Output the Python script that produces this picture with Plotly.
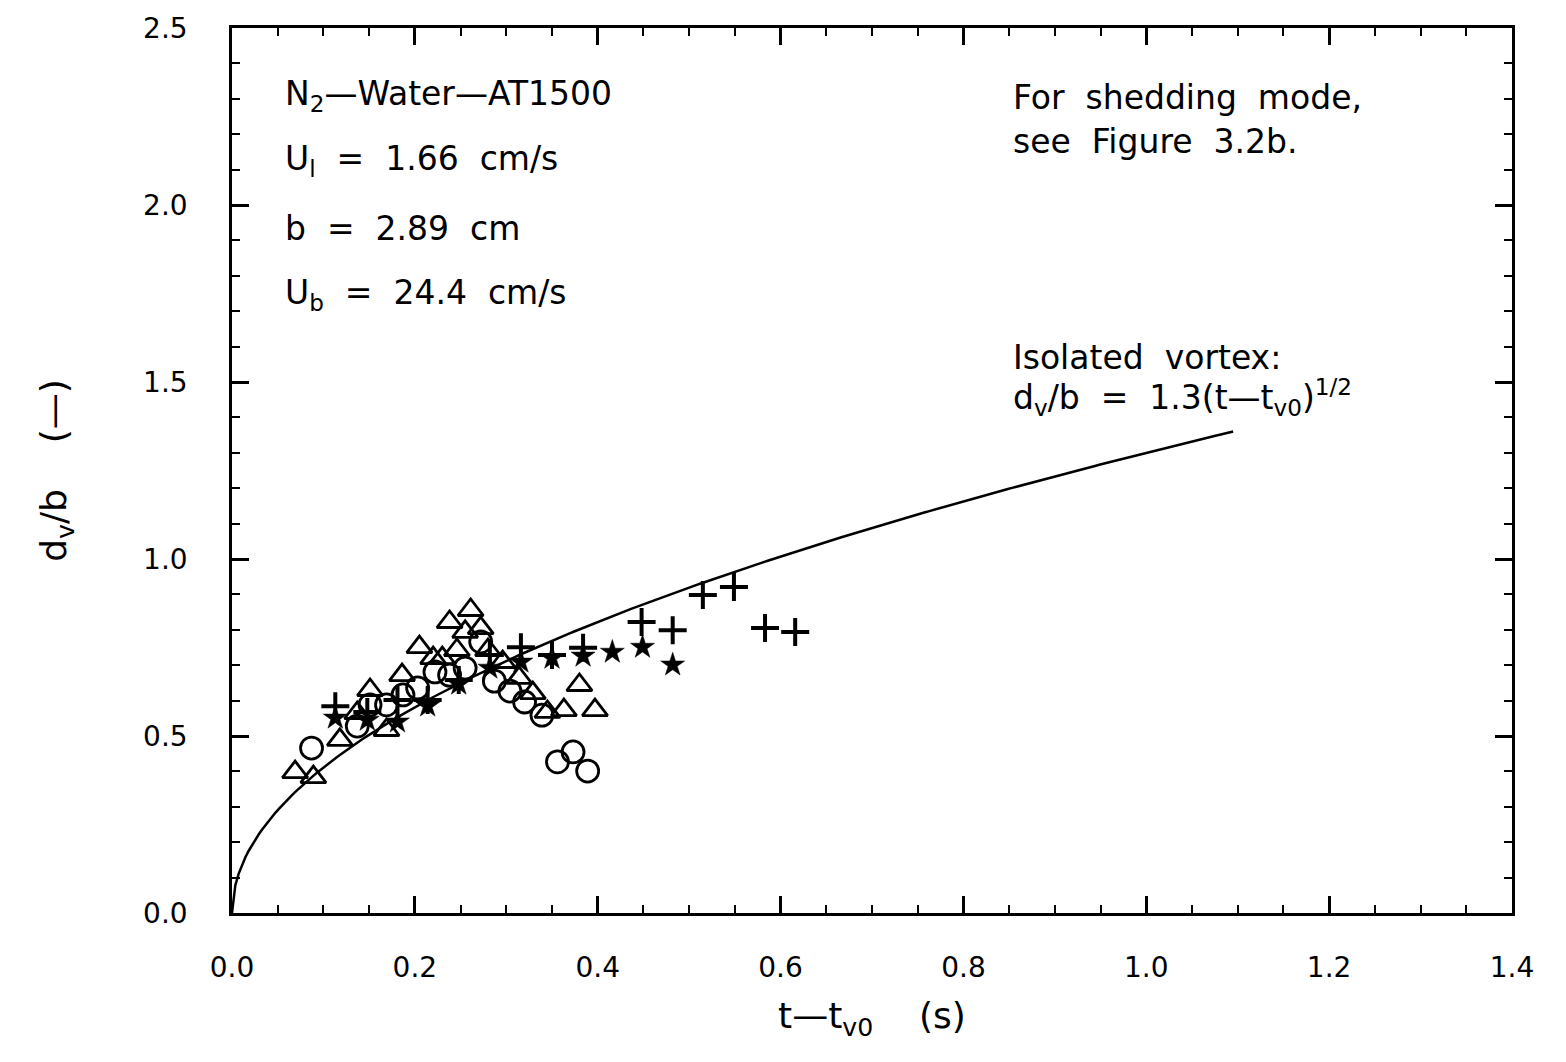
import numpy as np
import plotly.graph_objects as go

# ---- data ----
tri_t = [0.069, 0.089, 0.118, 0.137, 0.151, 0.169, 0.186, 0.205, 0.220, 0.230, 0.238, 0.246,
         0.255, 0.261, 0.272, 0.280, 0.296, 0.314, 0.329, 0.345, 0.363, 0.380, 0.397]
tri_y = [0.398, 0.384, 0.489, 0.565, 0.630, 0.517, 0.672, 0.751, 0.720, 0.720, 0.822, 0.743,
         0.794, 0.856, 0.805, 0.743, 0.709, 0.664, 0.621, 0.568, 0.573, 0.644, 0.573]

circ_t = [0.087, 0.137, 0.151, 0.169, 0.187, 0.203, 0.222, 0.238, 0.255, 0.272, 0.287, 0.304,
          0.320, 0.339, 0.356, 0.373, 0.389]
circ_y = [0.466, 0.528, 0.588, 0.588, 0.616, 0.636, 0.681, 0.672, 0.692, 0.766, 0.655, 0.627,
          0.596, 0.559, 0.427, 0.455, 0.401]

plus_t = [0.113, 0.148, 0.181, 0.214, 0.248, 0.282, 0.316, 0.350, 0.384, 0.448, 0.482, 0.515,
          0.549, 0.583, 0.616]
plus_y = [0.584, 0.568, 0.602, 0.602, 0.658, 0.729, 0.751, 0.729, 0.749, 0.822, 0.799, 0.898,
          0.921, 0.805, 0.794]

star_t = [0.113, 0.148, 0.181, 0.214, 0.248, 0.282, 0.316, 0.350, 0.384, 0.416, 0.449, 0.482]
star_y = [0.551, 0.545, 0.540, 0.585, 0.647, 0.692, 0.709, 0.720, 0.726, 0.737, 0.751, 0.701]

# isolated vortex model stated in the figure: d_v/b = 1.3 (t - t_v0)^(1/2)
model_coef = 1.3
model_tmax = 1.095
model_t = np.linspace(0.0, model_tmax, 300)
model_y = model_coef * np.sqrt(model_t)

x_ticks = [0.0, 0.2, 0.4, 0.6, 0.8, 1.0, 1.2, 1.4]
y_ticks = [0.0, 0.5, 1.0, 1.5, 2.0, 2.5]

FONT = "DejaVu Sans"
fig = go.Figure()

fig.add_trace(go.Scatter(x=model_t, y=model_y, mode="lines",
                         line=dict(color="black", width=2.5), hoverinfo="skip"))
fig.add_trace(go.Scatter(x=tri_t, y=tri_y, mode="markers",
                         marker=dict(symbol="triangle-up-open", size=22, color="black",
                                     line=dict(width=2.8, color="black"))))
fig.add_trace(go.Scatter(x=circ_t, y=circ_y, mode="markers",
                         marker=dict(symbol="circle-open", size=22, color="black",
                                     line=dict(width=2.8, color="black"))))
fig.add_trace(go.Scatter(x=plus_t, y=plus_y, mode="markers",
                         marker=dict(symbol="cross-thin-open", size=20, color="black",
                                     line=dict(width=4, color="black"))))
fig.add_trace(go.Scatter(x=star_t, y=star_y, mode="markers",
                         marker=dict(symbol="star", size=18, color="black",
                                     line=dict(width=0.5, color="black"))))

ann_font = dict(family=FONT, size=33, color="black")
anns = [
    (0.056, 2.31, "N<sub>2</sub>—Water—AT1500"),
    (0.056, 2.125, "U<sub>l</sub>  =  1.66  cm/s"),
    (0.056, 1.935, "b  =  2.89  cm"),
    (0.056, 1.748, "U<sub>b</sub>  =  24.4  cm/s"),
    (0.852, 2.305, "For  shedding  mode,"),
    (0.852, 2.18, "see  Figure  3.2b."),
    (0.852, 1.57, "Isolated  vortex:"),
    (0.852, 1.455, "d<sub>v</sub>/b  =  1.3(t—t<sub>v0</sub>)<sup>1/2</sup>"),
]
for x, y, txt in anns:
    fig.add_annotation(x=x, y=y, xref="x", yref="y", text=txt, showarrow=False,
                       xanchor="left", yanchor="middle", font=ann_font)

axis_common = dict(showgrid=False, zeroline=False, showline=True, linecolor="black",
                   linewidth=2.5, mirror="allticks", ticks="inside", ticklen=17,
                   tickwidth=2.5, tickcolor="black",
                   tickfont=dict(family=FONT, size=28, color="black"))

fig.update_xaxes(range=[0, 1.4], tickvals=x_ticks,
                 ticktext=[f"{v:.1f}" for v in x_ticks], ticklabelstandoff=28,
                 minor=dict(dtick=0.05, ticks="inside", ticklen=8, tickwidth=2, tickcolor="black"),
                 title=dict(text="t—t<sub>v0</sub>    (s)",
                            font=dict(family=FONT, size=36, color="black"), standoff=20),
                 **axis_common)
fig.update_yaxes(range=[0, 2.5], tickvals=y_ticks,
                 ticktext=[f"{v:.1f}" for v in y_ticks], ticklabelstandoff=36,
                 minor=dict(dtick=0.1, ticks="inside", ticklen=8, tickwidth=2, tickcolor="black"),
                 title=dict(text="d<sub>v</sub>/b    (—)",
                            font=dict(family=FONT, size=36, color="black"), standoff=66),
                 **axis_common)

fig.update_layout(width=1566, height=1062, showlegend=False,
                  plot_bgcolor="white", paper_bgcolor="white",
                  margin=dict(l=232, r=54, t=28, b=149, autoexpand=False))

fig.write_html("out.html")
